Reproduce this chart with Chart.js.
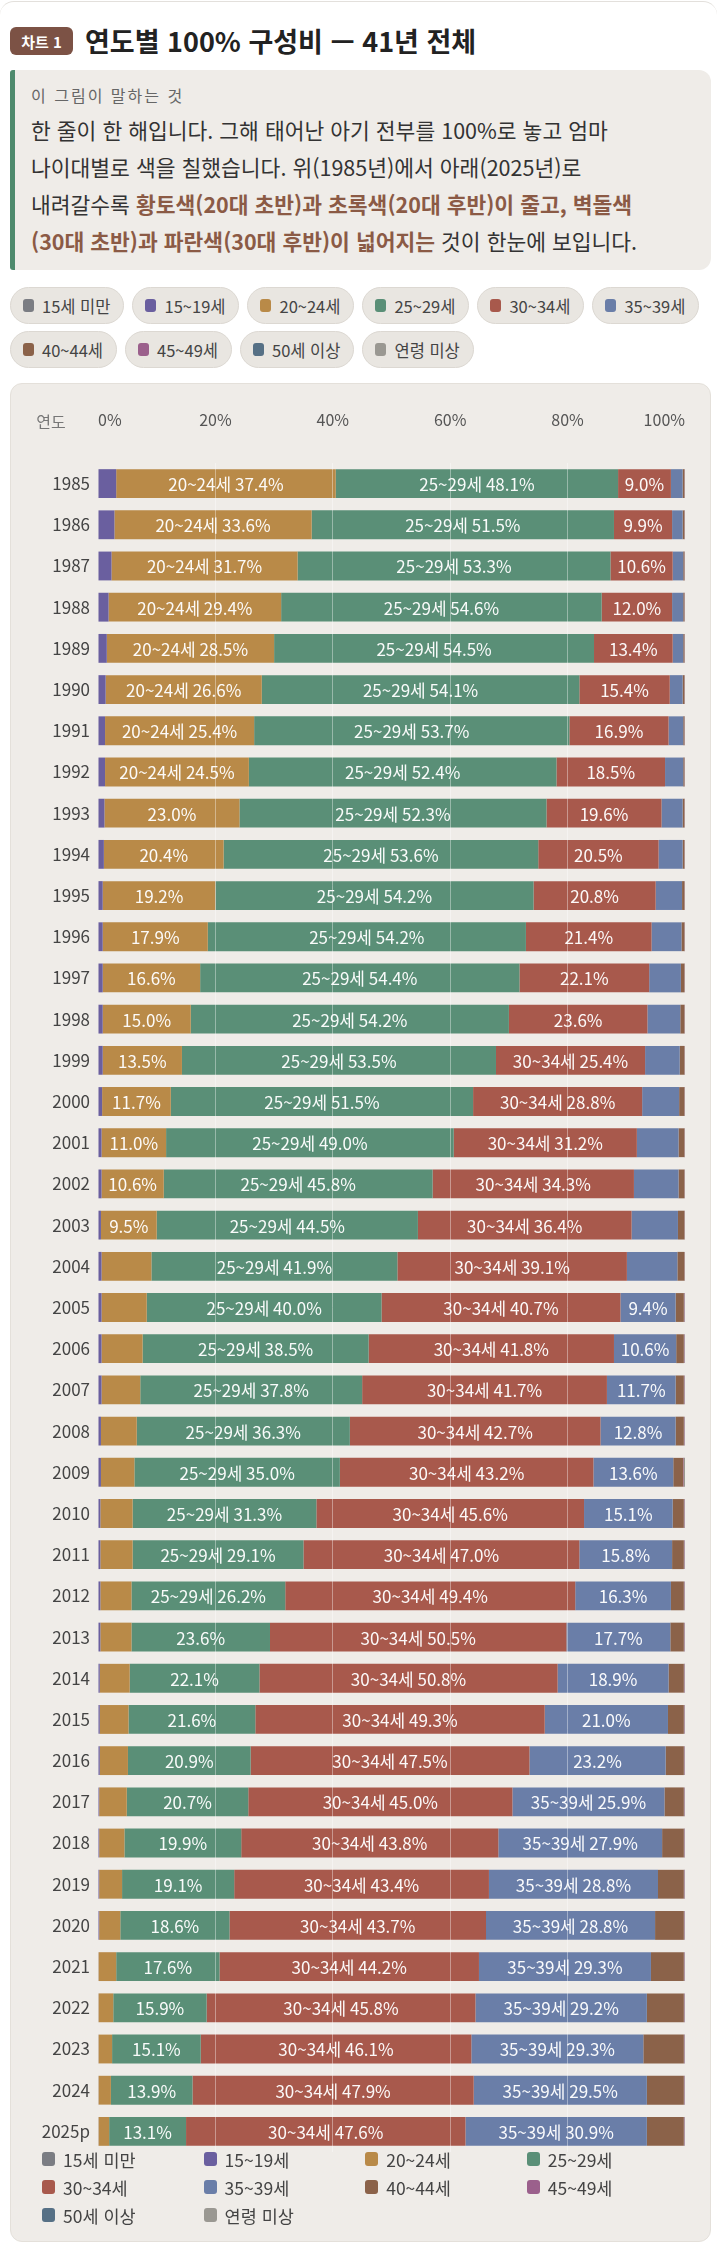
<!DOCTYPE html>
<html lang="ko">
<head>
<meta charset="utf-8">
<script src="https://cdn.jsdelivr.net/npm/chart.js@4.4.1/dist/chart.umd.min.js"></script>
<style>
  html, body { margin: 0; padding: 0; background: #ffffff; }
  body { width: 717px; font-family: "Noto Sans CJK KR", "Noto Sans", sans-serif; color: #2b2b2b; }
  .topline { position: absolute; left: 0; top: 1px; width: 717px; height: 20px; border-top: 1px solid #e3e0dc; border-radius: 14px 14px 0 0; }
  .wrap { position: relative; margin-left: 10px; width: 701px; padding-top: 27px; }
  .head { display: flex; align-items: center; height: 28px; }
  .badge { display: inline-flex; align-items: center; justify-content: center; width: 63px; height: 28px; border-radius: 6px; background: #7c5245; color: #fff; font-weight: 700; font-size: 15px; }
  .title { margin-left: 12px; font-size: 27px; font-weight: 700; color: #222; line-height: 28px; }
  .info { margin-top: 15px; height: 200px; box-sizing: border-box; background: #efece8; border-left: 5px solid #4e8a6d; border-radius: 3px 12px 12px 3px; padding: 14px 10px 0 16px; }
  .info .lbl { font-size: 16px; letter-spacing: 2px; color: #666; line-height: 22px; }
  .info .txt { margin-top: 5px; font-size: 21.5px; line-height: 37px; color: #333; white-space: nowrap; }
  .info b { color: #8b5a45; font-weight: 700; }
  .chips { margin-top: 17px; display: flex; flex-wrap: wrap; gap: 7px 8px; }
  .chip { display: inline-flex; align-items: center; height: 37px; box-sizing: border-box; padding: 0 13px 0 12px; border-radius: 19px; background: #e9e6e1; border: 1px solid #dcd8d2; font-size: 16.5px; color: #444; }
  .chip i { display: inline-block; width: 11px; height: 13px; border-radius: 3px; margin-right: 8px; }
  .card { margin-top: 15px; height: 1859px; box-sizing: border-box; background: #efece8; border: 1px solid #e4e0da; border-radius: 12px; position: relative; }
  .cv { position: absolute; left: 0; top: 0; width: 701px; height: 1768px; }
  .legend { position: absolute; left: 31px; top: 1761px; display: grid; grid-template-columns: 161.6px 161.6px 161.6px 161.6px; }
  .legend div { display: flex; align-items: center; height: 28px; font-size: 17.5px; color: #444; }
  .legend i { display: inline-block; width: 13px; height: 14px; border-radius: 3px; margin-right: 8px; }
</style>
</head>
<body>
<div class="topline"></div>
<div class="wrap">
  <div class="head"><span class="badge">차트 1</span><span class="title">연도별 100% 구성비 — 41년 전체</span></div>
  <div class="info">
    <div class="lbl">이 그림이 말하는 것</div>
    <div class="txt">한 줄이 한 해입니다. 그해 태어난 아기 전부를 100%로 놓고 엄마<br>나이대별로 색을 칠했습니다. 위(1985년)에서 아래(2025년)로<br>내려갈수록 <b>황토색(20대 초반)과 초록색(20대 후반)이 줄고, 벽돌색</b><br><b>(30대 초반)과 파란색(30대 후반)이 넓어지는</b> 것이 한눈에 보입니다.</div>
  </div>
  <div class="chips" id="chips"></div>
  <div class="card">
    <div class="cv"><canvas id="c"></canvas></div>
    <div class="legend" id="legend"></div>
  </div>
</div>
<script>
const years = ['1985','1986','1987','1988','1989','1990','1991','1992','1993','1994','1995','1996','1997','1998','1999','2000','2001','2002','2003','2004','2005','2006','2007','2008','2009','2010','2011','2012','2013','2014','2015','2016','2017','2018','2019','2020','2021','2022','2023','2024','2025p'];

const seriesNames = ['15세 미만','15~19세','20~24세','25~29세','30~34세','35~39세','40~44세','45~49세','50세 이상','연령 미상'];

const under15 = [0,0,0,0,0, 0,0,0,0,0, 0,0,0,0,0, 0,0,0,0,0, 0,0,0,0,0, 0,0,0,0,0, 0,0,0,0,0, 0,0,0,0,0, 0];
const age15_19 = [3.1,2.8,2.3,1.8,1.5, 1.3,1.2,1.2,1.1,1.0, 0.8,0.8,0.8,0.8,0.8, 0.7,0.6,0.6,0.5,0.6, 0.6,0.6,0.6,0.5,0.5, 0.4,0.4,0.4,0.4,0.3, 0.3,0.3,0.2,0.2,0.2, 0.2,0.1,0.1,0.1,0.1, 0.1];
const age20_24 = [37.4,33.6,31.7,29.4,28.5, 26.6,25.4,24.5,23.0,20.4, 19.2,17.9,16.6,15.0,13.5, 11.7,11.0,10.6,9.5,8.5, 7.7,7.0,6.6,6.1,5.7, 5.5,5.5,5.3,5.3,5.1, 4.9,4.8,4.7,4.3,3.9, 3.6,3.0,2.5,2.3,2.1, 1.8];
const age25_29 = [48.1,51.5,53.3,54.6,54.5, 54.1,53.7,52.4,52.3,53.6, 54.2,54.2,54.4,54.2,53.5, 51.5,49.0,45.8,44.5,41.9, 40.0,38.5,37.8,36.3,35.0, 31.3,29.1,26.2,23.6,22.1, 21.6,20.9,20.7,19.9,19.1, 18.6,17.6,15.9,15.1,13.9, 13.1];
const age30_34 = [9.0,9.9,10.6,12.0,13.4, 15.4,16.9,18.5,19.6,20.5, 20.8,21.4,22.1,23.6,25.4, 28.8,31.2,34.3,36.4,39.1, 40.7,41.8,41.7,42.7,43.2, 45.6,47.0,49.4,50.5,50.8, 49.3,47.5,45.0,43.8,43.4, 43.7,44.2,45.8,46.1,47.9, 47.6];
const age35_39 = [2.0,1.8,1.8,1.9,1.8, 2.2,2.5,3.1,3.6,4.1, 4.5,5.1,5.4,5.6,5.9, 6.3,7.1,7.6,7.9,8.6, 9.4,10.6,11.7,12.8,13.6, 15.1,15.8,16.3,17.7,18.9, 21.0,23.2,25.9,27.9,28.8, 28.8,29.3,29.2,29.3,29.5, 30.9];
const age40_44 = [0.3,0.3,0.2,0.2,0.2, 0.3,0.2,0.2,0.3,0.3, 0.4,0.5,0.6,0.7,0.8, 0.9,1.0,1.0,1.1,1.2, 1.4,1.3,1.4,1.4,1.7, 1.9,2.0,2.2,2.3,2.6, 2.7,3.1,3.3,3.7,4.4, 4.9,5.6,6.3,6.9,6.3, 6.3];
const age45_49 = [0.05,0.05,0.05,0.05,0.05, 0.05,0.05,0.05,0.05,0.05, 0.05,0.05,0.05,0.05,0.05, 0.05,0.05,0.05,0.05,0.05, 0.1,0.1,0.1,0.1,0.1, 0.1,0.1,0.1,0.1,0.1, 0.1,0.1,0.1,0.1,0.1, 0.1,0.1,0.1,0.1,0.1, 0.1];
const age50plus = [0,0,0,0,0, 0,0,0,0,0, 0,0,0,0,0, 0,0,0,0,0, 0,0,0,0,0, 0,0,0,0,0, 0,0,0,0,0, 0,0,0,0,0, 0];
const ageUnknown = [0.05,0.05,0.05,0.05,0.05, 0.05,0.05,0.05,0.05,0.05, 0.05,0.05,0.05,0.05,0.05, 0.05,0.05,0.05,0.05,0.05, 0.1,0.1,0.1,0.1,0.2, 0.1,0.1,0.1,0.1,0.1, 0.1,0.1,0.1,0.1,0.1, 0.1,0.1,0.1,0.1,0.1, 0.1];

const xTickValues = [0, 20, 40, 60, 80, 100];

const seriesValues = [under15, age15_19, age20_24, age25_29, age30_34, age35_39, age40_44, age45_49, age50plus, ageUnknown];
const seriesColors = ['#7b7d83','#6a5f9f','#b98a48','#5a8f77','#a8594c','#6a7ea8','#8b6249','#9b608c','#567085','#9a9892'];

// chips and legend (HTML)
const chipsEl = document.getElementById('chips');
const legEl = document.getElementById('legend');
seriesNames.forEach((n, i) => {
  const c = document.createElement('span'); c.className = 'chip';
  c.innerHTML = '<i style="background:' + seriesColors[i] + '"></i>' + n; chipsEl.appendChild(c);
  const l = document.createElement('div');
  l.innerHTML = '<i style="background:' + seriesColors[i] + '"></i>' + n; legEl.appendChild(l);
});

const FONT = '"Noto Sans CJK KR", "Noto Sans", sans-serif';
Chart.defaults.font.family = FONT;

const labelPlugin = {
  id: 'segLabels',
  afterDatasetsDraw(chart) {
    const ctx = chart.ctx;
    ctx.save();
    ctx.font = '17px ' + FONT;
    ctx.fillStyle = 'rgba(255,255,255,0.96)';
    ctx.textAlign = 'center';
    ctx.textBaseline = 'middle';
    chart.data.datasets.forEach((ds, di) => {
      const meta = chart.getDatasetMeta(di);
      if (meta.hidden) return;
      meta.data.forEach((bar, i) => {
        const v = ds.data[i];
        if (v < 9) return;
        const txt = v >= 24 ? ds.label + ' ' + v.toFixed(1) + '%' : v.toFixed(1) + '%';
        const p = bar.getProps(['x', 'base', 'y'], true);
        ctx.fillText(txt, (p.x + p.base) / 2, p.y + 1);
      });
    });
    ctx.restore();
  },
  afterDraw(chart) {
    const ctx = chart.ctx;
    ctx.save();
    ctx.font = '16px ' + FONT;
    ctx.fillStyle = '#777';
    ctx.textAlign = 'center';
    ctx.textBaseline = 'middle';
    ctx.fillText('연도', chart.chartArea.left - 47, 38);
    ctx.restore();
  }
};

new Chart(document.getElementById('c'), {
  type: 'bar',
  data: {
    labels: years,
    datasets: seriesNames.map((n, i) => ({
      label: n,
      data: seriesValues[i],
      backgroundColor: seriesColors[i],
      borderWidth: 0,
      categoryPercentage: 1.0,
      barPercentage: 0.7
    }))
  },
  options: {
    indexAxis: 'y',
    responsive: true,
    maintainAspectRatio: false,
    animation: false,
    layout: { padding: { left: 0, right: 27, top: 0, bottom: 0 } },
    plugins: { legend: { display: false }, tooltip: { enabled: false } },
    scales: {
      x: {
        position: 'top',
        stacked: true,
        min: 0, max: 100,
        afterBuildTicks: (s) => { s.ticks = xTickValues.map(v => ({ value: v })); },
        afterFit: (s) => { s.height = 79; s.paddingLeft = 0; s.paddingRight = 0; },
        border: { display: false },
        grid: {
          drawTicks: false,
          z: 1,
          lineWidth: 1,
          color: (c) => (c.tick && (c.tick.value === 0 || c.tick.value === 100)) ? 'rgba(0,0,0,0)' : 'rgba(255,255,255,0.38)'
        },
        ticks: {
          align: 'inner',
          padding: 33,
          color: '#555',
          font: { size: 16 },
          callback: (v) => v + '%'
        }
      },
      y: {
        stacked: true,
        afterFit: (s) => { s.width = 87; s.paddingTop = 0; s.paddingBottom = 0; },
        border: { display: false },
        grid: { display: false, drawTicks: false },
        ticks: { padding: 8, color: '#444', font: { size: 17 } }
      }
    }
  },
  plugins: [labelPlugin]
});
</script>
</body>
</html>
